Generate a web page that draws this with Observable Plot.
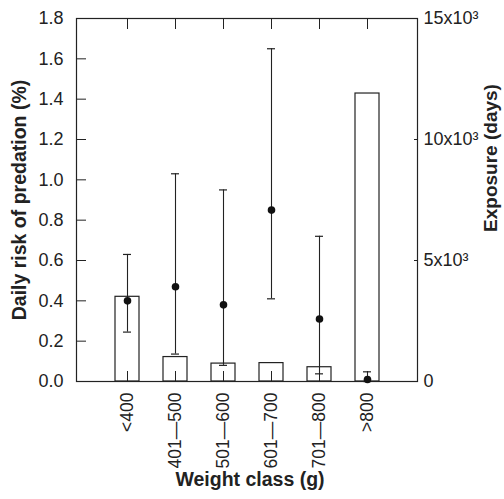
<!DOCTYPE html>
<html><head><meta charset="utf-8">
<script src="https://cdn.jsdelivr.net/npm/d3@7"></script>
<script src="https://cdn.jsdelivr.net/npm/@observablehq/plot@0.6"></script>
<style>body{margin:0;background:#fff}</style>
</head><body><div id="chart"></div>
<script>
const categories = ["<400", "401—500", "501—600", "601—700", "701—800", ">800"];
const risk = [0.40, 0.47, 0.38, 0.85, 0.31, 0.01];
const riskLow = [0.245, 0.136, 0.08, 0.41, 0.038, 0.0];
const riskHigh = [0.63, 1.03, 0.95, 1.65, 0.72, 0.048];
const exposure = [3500, 1010, 740, 760, 590, 11900];
const leftTicks = [0, 0.2, 0.4, 0.6, 0.8, 1.0, 1.2, 1.4, 1.6, 1.8];
const rightTicks = [0, 5000, 10000, 15000];
const rightTickLabels = ["0", "5x10³", "10x10³", "15x10³"];
const leftMax = 1.8, rightMax = 15000;

const toLeft = v => v / rightMax * leftMax;
const data = categories.map((c, i) => ({
  cat: c, risk: risk[i], lo: riskLow[i], hi: riskHigh[i], exp: toLeft(exposure[i])
}));
const ink = "#222";

const chart = Plot.plot({
  width: 504, height: 499,
  marginLeft: 76, marginRight: 87, marginTop: 18, marginBottom: 118,
  style: {fontFamily: "'Liberation Sans', Arial, sans-serif", fontSize: "18px", color: ink, background: "#fff"},
  x: {type: "band", domain: categories, paddingInner: 0.5, paddingOuter: 0.75, label: null},
  y: {domain: [0, leftMax], label: null},
  marks: [
    Plot.barY(data, {x: "cat", y: "exp", fill: "white", stroke: ink, strokeWidth: 1.2}),
    Plot.frame({stroke: ink, strokeWidth: 1.2}),
    Plot.axisY({anchor: "left", ticks: leftTicks, tickFormat: d3.format(".1f"), tickSize: -10, tickPadding: 23, stroke: ink, fontSize: 18, label: null}),
    Plot.axisY({anchor: "right", ticks: rightTicks.map(toLeft), tickFormat: (d, i) => rightTickLabels[i], tickSize: -4, tickPadding: 10, stroke: ink, fontSize: 18, label: null}),
    Plot.axisX({anchor: "bottom", tickRotate: -90, tickSize: -10, tickPadding: 21, stroke: ink, fontSize: 17.5, label: null}),
    Plot.axisX({anchor: "top", tickSize: -10, tickFormat: () => "", stroke: ink, label: null}),
    Plot.ruleX(data, {x: "cat", y1: "lo", y2: "hi", stroke: ink, strokeWidth: 1.1}),
    Plot.tickY(data, {x: "cat", y: "hi", stroke: ink, strokeWidth: 1.2, insetLeft: 8, insetRight: 8}),
    Plot.tickY(data, {x: "cat", y: "lo", stroke: ink, strokeWidth: 1.2, insetLeft: 8, insetRight: 8}),
    Plot.dot(data, {x: "cat", y: "risk", r: 3.8, fill: "#111", stroke: "none"}),
    Plot.text(["Daily risk of predation (%)"], {frameAnchor: "left", textAnchor: "middle", dx: -57, rotate: -90, fontSize: 19.5, fontWeight: "bold", fill: ink}),
    Plot.text(["Exposure (days)"], {frameAnchor: "right", textAnchor: "middle", dx: 73, dy: -42, rotate: -90, fontSize: 19, fontWeight: "bold", fill: ink}),
    Plot.text(["Weight class (g)"], {frameAnchor: "bottom", textAnchor: "middle", dx: 3, dy: 104, fontSize: 19.5, fontWeight: "bold", fill: ink})
  ]
});
document.getElementById("chart").appendChild(chart);
</script>
</body></html>
